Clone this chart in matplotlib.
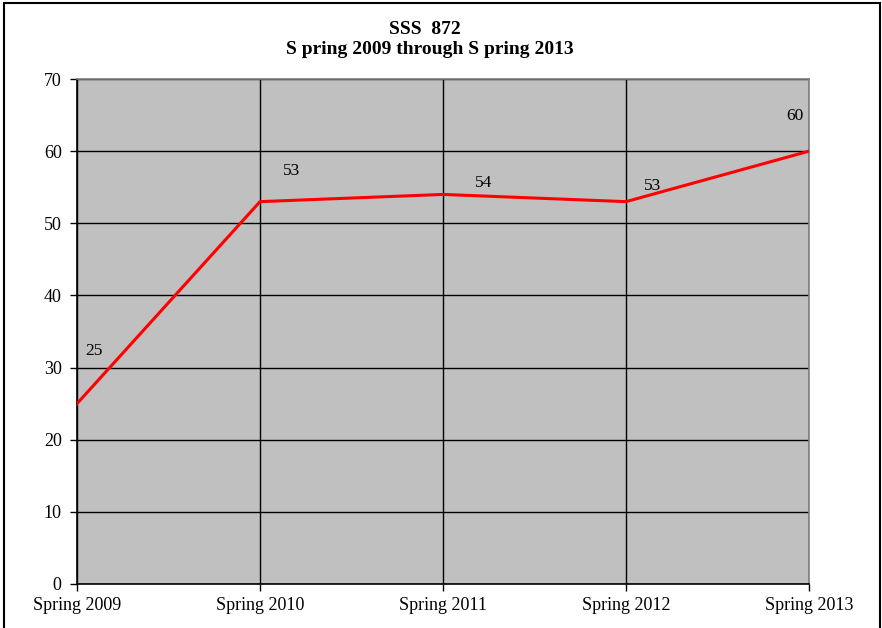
import matplotlib
matplotlib.use('Agg')
import matplotlib.pyplot as plt
from matplotlib.patches import Rectangle

# values
terms = ['Spring 2009', 'Spring 2010', 'Spring 2011', 'Spring 2012', 'Spring 2013']
scores = [25, 53, 54, 53, 60]
y_ticks = [0, 10, 20, 30, 40, 50, 60, 70]

# label offsets in points (style only)
label_offsets = [(12, 38), (23, 22), (29, 8), (19, 11), (-10, 25)]

plt.rcParams['font.family'] = ['Liberation Serif', 'DejaVu Serif']

fig = plt.figure(figsize=(8.82, 6.28), dpi=100)
ax = fig.add_axes([77 / 882, 1 - 584 / 628, (809 - 77) / 882, (584 - 79) / 628])

# outer chart frame
fig.patches.append(Rectangle((4 / 882, -0.01), 876 / 882, 1 - 3 / 628 + 0.01,
                             transform=fig.transFigure, fill=False,
                             edgecolor='black', linewidth=1.5))

ax.set_facecolor('#C0C0C0')
x = list(range(len(terms)))
ax.plot(x, scores, color='#FF0000', linewidth=2.2, zorder=3)

for xi, v, off in zip(x, scores, label_offsets):
    ax.annotate(str(v), (xi, v), xytext=off, textcoords='offset points',
                ha='center', va='center', fontsize=12.5, color='black')

ax.set_xlim(0, len(terms) - 1)
ax.set_ylim(0, 70)
ax.set_xticks(x)
ax.set_xticklabels(terms, fontsize=13)
ax.set_yticks(y_ticks)
ax.tick_params(axis='y', labelsize=13, direction='out', length=5, width=1, pad=6)
ax.tick_params(axis='x', direction='out', length=5, width=1, pad=4)

ax.grid(True, color='black', linewidth=1)
ax.set_axisbelow(True)

ax.spines['left'].set_color('black')
ax.spines['bottom'].set_color('black')
ax.spines['top'].set_color('#808080')
ax.spines['right'].set_color('#808080')
for s in ax.spines.values():
    s.set_linewidth(1.2)

fig.text(425 / 882, 1 - 30 / 628, 'SSS  872', ha='center', va='center',
         fontsize=14, fontweight='bold')
fig.text(430 / 882, 1 - 49 / 628, 'S pring 2009 through S pring 2013', ha='center',
         va='center', fontsize=14, fontweight='bold')

fig.savefig('out.png', dpi=100)
